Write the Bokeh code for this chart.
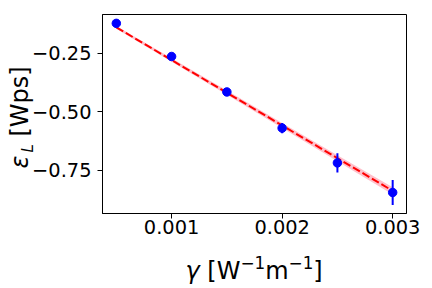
import math
from bokeh.plotting import figure
from bokeh.models import Range1d, FixedTicker, Label, ColumnDataSource
from bokeh.layouts import column
from bokeh.embed import file_html
from bokeh.resources import INLINE

# ---- data ----
gamma = [0.0005, 0.001, 0.0015, 0.002, 0.0025, 0.003]
eps_L = [-0.121, -0.263, -0.415, -0.570, -0.719, -0.846]
eps_err = [0.006, 0.007, 0.008, 0.022, 0.041, 0.054]

fit_x = [0.0005, 0.003]
fit_y = [-0.138, -0.839]

band_x = [0.0005, 0.001, 0.0015, 0.002, 0.0025, 0.003]
band_lo = [-0.144, -0.285, -0.427, -0.569, -0.712, -0.855]
band_hi = [-0.132, -0.271, -0.409, -0.548, -0.686, -0.823]

x_ticks = [0.001, 0.002, 0.003]
x_tick_labels = ["0.001", "0.002", "0.003"]
y_ticks = [-0.75, -0.5, -0.25]
y_tick_labels = ["\u22120.75", "\u22120.50", "\u22120.25"]

# ---- layout ----
W, H = 432, 288
FL, FR, FT, FB = 102, 406, 14, 213   # frame edges in canvas px
FONT = "DejaVu Sans"
TICK_FS = 19.4
LAB_FS = 24.0
SUB_FS = LAB_FS * 0.7

p = figure(width=W, height=H, output_backend="svg", toolbar_location=None,
           x_range=Range1d(0.000375, 0.003125), y_range=Range1d(-0.936, -0.083),
           min_border_left=FL, min_border_right=W - FR,
           min_border_top=FT, min_border_bottom=H - FB)
p.frame_align = False
p.background_fill_color = "white"
p.border_fill_color = "white"
p.outline_line_color = "black"
p.outline_line_width = 1
p.xgrid.visible = False
p.ygrid.visible = False

for ax in (p.xaxis[0], p.yaxis[0]):
    ax.axis_line_color = "black"
    ax.axis_line_width = 1
    ax.major_tick_out = 5
    ax.major_tick_in = 0
    ax.major_tick_line_color = "black"
    ax.minor_tick_line_color = None
    ax.major_label_text_font = FONT
    ax.major_label_text_font_size = f"{TICK_FS}px"
    ax.major_label_text_color = "black"

p.xaxis.ticker = FixedTicker(ticks=x_ticks)
p.xaxis.major_label_overrides = dict(zip(x_ticks, x_tick_labels))
p.xaxis.major_label_standoff = 1
p.yaxis.ticker = FixedTicker(ticks=y_ticks)
p.yaxis.major_label_overrides = dict(zip(y_ticks, y_tick_labels))
p.yaxis.major_label_standoff = 6

# ---- glyphs ----
band = ColumnDataSource(dict(x=band_x, lo=band_lo, hi=band_hi))
p.varea(x="x", y1="lo", y2="hi", source=band, fill_color="#ffc0cb", fill_alpha=1.0)
p.line(fit_x, fit_y, line_color="red", line_width=2, line_dash="8 3")

pts = ColumnDataSource(dict(
    x=gamma, y=eps_L,
    lo=[v - e for v, e in zip(eps_L, eps_err)],
    hi=[v + e for v, e in zip(eps_L, eps_err)],
))
p.segment(x0="x", y0="lo", x1="x", y1="hi", source=pts, line_color="blue", line_width=2)
p.scatter(x="x", y="y", source=pts, size=8.5, fill_color="blue", line_color="blue")

# ---- transparent overlay figure carrying the mathtext-like axis labels ----
ov = figure(width=W, height=H, output_backend="svg", toolbar_location=None,
            x_range=Range1d(0, W), y_range=Range1d(H, 0),
            x_axis_type=None, y_axis_type=None,
            min_border=0, min_border_left=0, min_border_right=0,
            min_border_top=0, min_border_bottom=0)
ov.frame_align = False
ov.title.visible = False
ov.background_fill_color = None
ov.border_fill_color = None
ov.outline_line_color = None
ov.margin = (-H, 0, 0, 0)

def put(text, cx, cy, size, angle=0.0, italic=False):
    ov.add_layout(Label(x=cx, y=cy, text=text, angle=angle, text_font=FONT,
                        text_font_size=f"{size}px",
                        text_font_style="italic" if italic else "normal",
                        text_align="left", text_baseline="alphabetic",
                        text_color="black"))

em = LAB_FS
sub = SUB_FS
cx, base = 185.0, 270.7
put("\u03b3", cx, base, LAB_FS, italic=True); cx += 0.592 * em + 0.318 * em
put("[W", cx, base, LAB_FS); cx += (0.390 + 0.989) * em
put("\u22121", cx, base - 9, SUB_FS); cx += (0.838 + 0.636) * sub
put("m", cx, base, LAB_FS); cx += 0.974 * em
put("\u22121", cx, base - 9, SUB_FS); cx += (0.838 + 0.636) * sub
put("]", cx, base, LAB_FS)

ang = math.pi / 2
L_FS = 15.0
bx, cy = 19.0, 168.0
put("\u03b5", bx, cy, LAB_FS, angle=ang, italic=True); cy -= 0.541 * em + 3
put("L", bx + 8, cy, L_FS, angle=ang, italic=True); cy -= 0.557 * L_FS + 0.318 * em
put("[Wps]", bx, cy, LAB_FS, angle=ang)

layout = column(p, ov)
open("out.html", "w").write(file_html(layout, INLINE))
